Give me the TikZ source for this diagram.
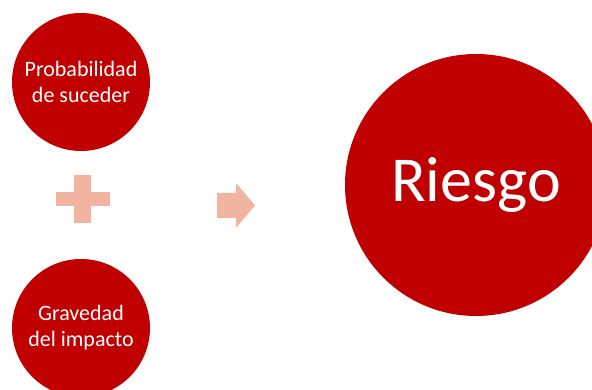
\documentclass[tikz,border=0pt]{standalone}
\usepackage{fontspec}
\setmainfont{Carlito}
\usetikzlibrary{positioning}
\definecolor{riskred}{RGB}{192,0,0}
\definecolor{signpink}{RGB}{240,180,160}
\tikzset{
	factor/.style={circle, fill=riskred, text=white, inner sep=0pt, minimum size=138pt, align=center, font=\fontsize{22}{26}\selectfont},
	result/.style={circle, fill=riskred, text=white, inner sep=0pt, minimum size=262pt, font=\fontsize{64}{70}\selectfont}
}

\begin{document}
\begin{tikzpicture}[x=1pt, y=-1pt]
			%%%%% START %%%%%
			\useasboundingbox (0, 0) rectangle (592, 390);
			
			\node[factor] (prob) at (81, 82) {Probabilidad\\de suceder};
			\node[factor] (grav) at (81, 328) {Gravedad\\del impacto};
			
			\fill[signpink] (56, 192) rectangle (110, 206);
			\fill[signpink] (74, 175) rectangle (91, 223);
			
			\fill[signpink] (217, 193) -- (236, 193) -- (236, 183) -- (255, 205.5) -- (236, 228) -- (236, 218) -- (217, 218) -- cycle;
			
			\node[result] (riesgo) at (476, 185) {Riesgo};
			%%%%% END %%%%%
		\end{tikzpicture}
\end{document}
